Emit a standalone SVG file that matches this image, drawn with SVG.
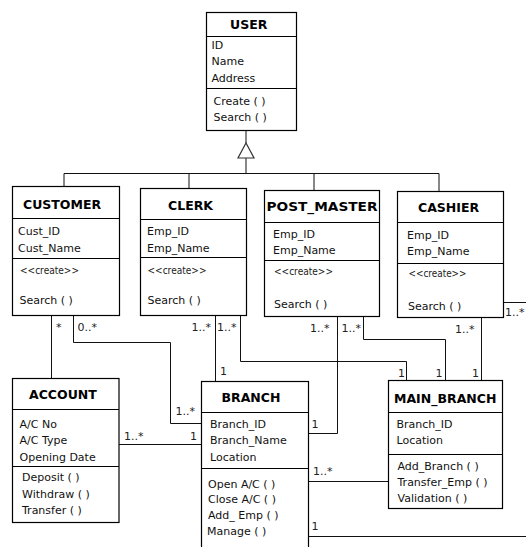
<svg xmlns="http://www.w3.org/2000/svg" width="526" height="547" viewBox="0 0 526 547">
  <style>
    .box { fill: #fff; stroke: #000; stroke-width: 1.2; }
    .div { stroke: #000; stroke-width: 1.2; fill: none; }
    .conn { fill: none; stroke: #111; stroke-width: 1; }
    .gen { fill: #fff; stroke: #333; stroke-width: 1.2; }
    text { font-family: "DejaVu Sans", "Liberation Sans", sans-serif; font-size: 11px; fill: #111; }
    .title { font-weight: bold; font-size: 12.5px; fill: #000; }
    .stereo { font-size: 10px; fill: #222; }
    .mult { font-size: 11px; fill: #222; }
  </style>

  <rect width="526" height="547" fill="#fff"/>

  <!-- generalisation tree and associations -->
  <g id="connectors">
    <path class="conn" d="M246 130.5 V143.5 M246 158 V173.5 M64 173.5 H439 M64 173.5 V186.5 M189 173.5 V188.5 M314 173.5 V190.5 M439 173.5 V191.5"/>
    <polygon class="gen" points="246,143 238,158 254,158"/>

    <path class="conn" d="M51.5 315.5 V378.5"/>
    <path class="conn" d="M73.5 315.5 V342.5 H170.5 V423.5 H201.5"/>
    <path class="conn" d="M119 444.5 H201.5"/>
    <path class="conn" d="M215.5 315.5 V381.5"/>
    <path class="conn" d="M240.5 315.5 V361.5 H406.5 V380.5"/>
    <path class="conn" d="M337.5 316.5 V433.5 H308.5"/>
    <path class="conn" d="M363.5 316.5 V339.5 H445.5 V380.5"/>
    <path class="conn" d="M481.5 317.5 V380.5"/>
    <path class="conn" d="M503.5 302.5 H526"/>
    <path class="conn" d="M308.5 481.5 H388.5"/>
    <path class="conn" d="M308.5 536.5 H526"/>

    <!-- multiplicities -->
    <text class="mult" x="56" y="331">*</text>
    <text class="mult" x="77.5" y="330.5">0..*</text>
    <text class="mult" x="191.5" y="330.5">1..*</text>
    <text class="mult" x="217" y="330.5">1..*</text>
    <text class="mult" x="220" y="375">1</text>
    <text class="mult" x="175.5" y="415">1..*</text>
    <text class="mult" x="124" y="440">1..*</text>
    <text class="mult" x="190" y="440">1</text>
    <text class="mult" x="310" y="331.5">1..*</text>
    <text class="mult" x="341.5" y="331.5">1..*</text>
    <text class="mult" x="398" y="376.5">1</text>
    <text class="mult" x="435.5" y="376.5">1</text>
    <text class="mult" x="472" y="376.5">1</text>
    <text class="mult" x="455" y="332.5">1..*</text>
    <text class="mult" x="505" y="316">1..*</text>
    <text class="mult" x="311.5" y="428">1</text>
    <text class="mult" x="313" y="475">1..*</text>
    <text class="mult" x="311.5" y="530">1</text>
  </g>

  <g id="user">
    <rect class="box" x="206.5" y="12.5" width="90" height="118"/>
    <path class="div" d="M206.5 36.5 H296.5 M206.5 88.5 H296.5"/>
    <text class="title" x="230" y="29">USER</text>
    <text x="211.5" y="48.5">ID</text>
    <text x="211.5" y="65">Name</text>
    <text x="211.5" y="81.5">Address</text>
    <text x="213.5" y="104.5">Create ( )</text>
    <text x="213.5" y="121">Search ( )</text>
  </g>

  <g id="customer">
    <rect class="box" x="12.5" y="186.5" width="107" height="129"/>
    <path class="div" d="M12.5 218.5 H119.5 M12.5 258.5 H119.5"/>
    <text class="title" x="23" y="208.5">CUSTOMER</text>
    <text x="18" y="235">Cust_ID</text>
    <text x="18" y="251.5">Cust_Name</text>
    <text class="stereo" x="20" y="273.5" textLength="59" lengthAdjust="spacingAndGlyphs">&lt;&lt;create&gt;&gt;</text>
    <text x="19.5" y="304">Search ( )</text>
  </g>

  <g id="clerk">
    <rect class="box" x="140.5" y="188.5" width="106" height="127"/>
    <path class="div" d="M140.5 219.5 H246.5 M140.5 257.5 H246.5"/>
    <text class="title" x="168" y="209.5">CLERK</text>
    <text x="147" y="235">Emp_ID</text>
    <text x="147" y="251.5">Emp_Name</text>
    <text class="stereo" x="147.5" y="273.5" textLength="59" lengthAdjust="spacingAndGlyphs">&lt;&lt;create&gt;&gt;</text>
    <text x="147.5" y="304">Search ( )</text>
  </g>

  <g id="post_master">
    <rect class="box" x="264.5" y="190.5" width="115" height="126"/>
    <path class="div" d="M264.5 222.5 H379.5 M264.5 260.5 H379.5"/>
    <text class="title" x="266.5" y="211" textLength="111" lengthAdjust="spacingAndGlyphs">POST_MASTER</text>
    <text x="273" y="237.5">Emp_ID</text>
    <text x="273" y="254">Emp_Name</text>
    <text class="stereo" x="274" y="275" textLength="59" lengthAdjust="spacingAndGlyphs">&lt;&lt;create&gt;&gt;</text>
    <text x="274" y="308">Search ( )</text>
  </g>

  <g id="cashier">
    <rect class="box" x="397.5" y="191.5" width="106" height="126"/>
    <path class="div" d="M397.5 222.5 H503.5 M397.5 263.5 H503.5"/>
    <text class="title" x="418" y="211.5">CASHIER</text>
    <text x="407" y="238.5">Emp_ID</text>
    <text x="407" y="255">Emp_Name</text>
    <text class="stereo" x="408.5" y="277" textLength="58" lengthAdjust="spacingAndGlyphs">&lt;&lt;create&gt;&gt;</text>
    <text x="408" y="310">Search ( )</text>
  </g>

  <g id="account">
    <rect class="box" x="12.5" y="378.5" width="106.5" height="144"/>
    <path class="div" d="M12.5 409.5 H119 M12.5 466.5 H119"/>
    <text class="title" x="29" y="399">ACCOUNT</text>
    <text x="19.5" y="427.5">A/C No</text>
    <text x="19.5" y="444">A/C Type</text>
    <text x="19.5" y="460.5">Opening Date</text>
    <text x="22" y="481">Deposit ( )</text>
    <text x="22" y="497.5">Withdraw ( )</text>
    <text x="22" y="514">Transfer ( )</text>
  </g>

  <g id="branch">
    <rect class="box" x="201.5" y="381.5" width="107" height="180"/>
    <path class="div" d="M201.5 412.5 H308.5 M201.5 468.5 H308.5"/>
    <text class="title" x="221.5" y="402">BRANCH</text>
    <text x="210" y="427.5">Branch_ID</text>
    <text x="210" y="444">Branch_Name</text>
    <text x="210" y="460.5">Location</text>
    <text x="208" y="487.5">Open A/C ( )</text>
    <text x="208" y="503">Close A/C ( )</text>
    <text x="208" y="518.5">Add_ Emp ( )</text>
    <text x="207" y="535">Manage ( )</text>
  </g>

  <g id="main_branch">
    <rect class="box" x="388.5" y="380.5" width="114" height="128"/>
    <path class="div" d="M388.5 412.5 H502.5 M388.5 454.5 H502.5"/>
    <text class="title" x="394" y="402.5">MAIN_BRANCH</text>
    <text x="396.5" y="428">Branch_ID</text>
    <text x="396.5" y="444">Location</text>
    <text x="397.5" y="469.5">Add_Branch ( )</text>
    <text x="397.5" y="486">Transfer_Emp ( )</text>
    <text x="397.5" y="502">Validation ( )</text>
  </g>
</svg>
